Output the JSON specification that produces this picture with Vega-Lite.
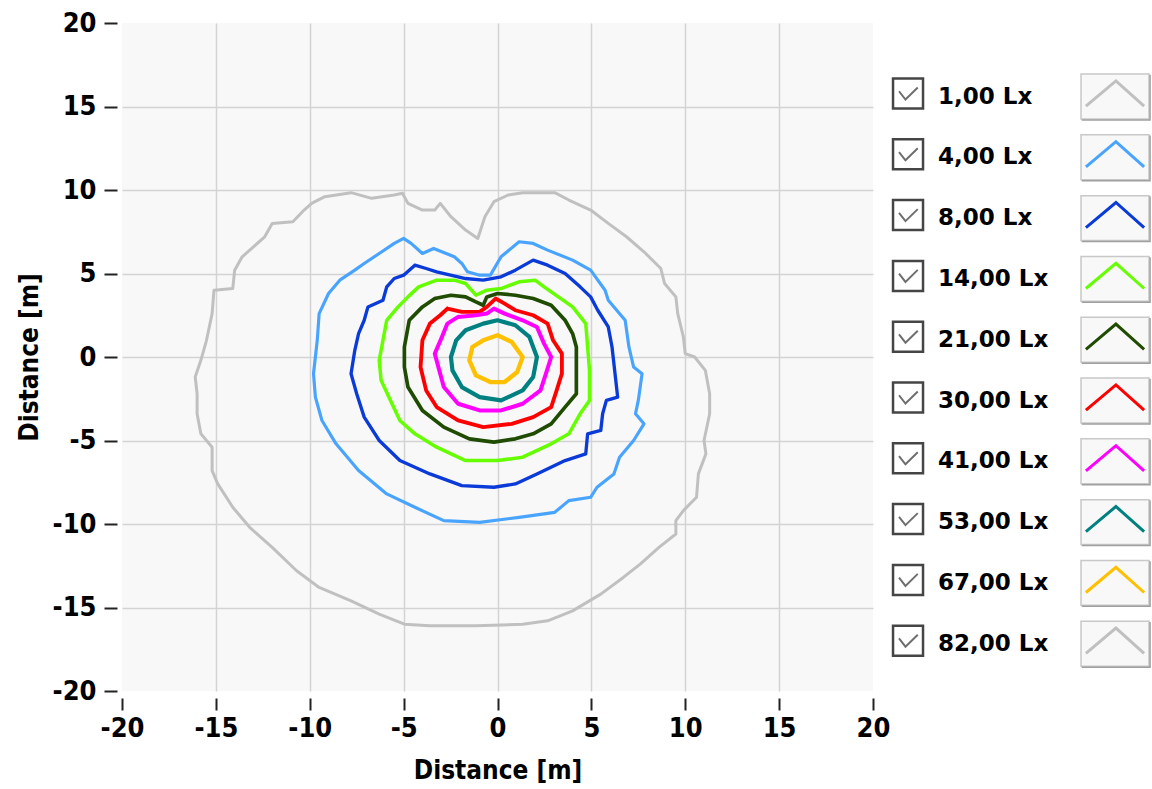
{
  "$schema": "https://vega.github.io/schema/vega-lite/v6.json",
  "background": "#ffffff",
  "padding": {"left": 16, "top": 9, "right": 0, "bottom": 0},
  "bounds": "flush",
  "spacing": 7,
  "config": {
    "font": "DejaVu Sans",
    "axis": {
      "labelFont": "DejaVu Sans Condensed",
      "labelFontWeight": "bold",
      "labelFontSize": 27,
      "labelColor": "#000000",
      "labelFlush": false,
      "titleFont": "DejaVu Sans Condensed",
      "titleFontWeight": "bold",
      "titleFontSize": 26,
      "titleColor": "#000000",
      "tickColor": "#222222",
      "tickWidth": 2,
      "domain": false,
      "gridColor": "#d3d3d3",
      "gridWidth": 1.5
    },
    "view": {"stroke": null}
  },
  "datasets": {
    "levels": [
      {"lvl": "1,00 Lx", "k": 0},
      {"lvl": "4,00 Lx", "k": 1},
      {"lvl": "8,00 Lx", "k": 2},
      {"lvl": "14,00 Lx", "k": 3},
      {"lvl": "21,00 Lx", "k": 4},
      {"lvl": "30,00 Lx", "k": 5},
      {"lvl": "41,00 Lx", "k": 6},
      {"lvl": "53,00 Lx", "k": 7},
      {"lvl": "67,00 Lx", "k": 8},
      {"lvl": "82,00 Lx", "k": 9}
    ],
    "curves": [
      {"lvl":"1,00 Lx","i":0,"x":-1.05,"y":7.1},{"lvl":"1,00 Lx","i":1,"x":-0.67,"y":8.4},{"lvl":"1,00 Lx","i":2,"x":-0.19,"y":9.3},{"lvl":"1,00 Lx","i":3,"x":0.57,"y":9.7},{"lvl":"1,00 Lx","i":4,"x":1.34,"y":9.84},{"lvl":"1,00 Lx","i":5,"x":3.05,"y":9.84},{"lvl":"1,00 Lx","i":6,"x":3.8,"y":9.4},{"lvl":"1,00 Lx","i":7,"x":4.96,"y":8.8},{"lvl":"1,00 Lx","i":8,"x":5.9,"y":8.0},{"lvl":"1,00 Lx","i":9,"x":6.87,"y":7.2},
      {"lvl":"1,00 Lx","i":10,"x":7.8,"y":6.3},{"lvl":"1,00 Lx","i":11,"x":8.7,"y":5.3},{"lvl":"1,00 Lx","i":12,"x":8.9,"y":4.4},{"lvl":"1,00 Lx","i":13,"x":9.5,"y":3.6},{"lvl":"1,00 Lx","i":14,"x":9.6,"y":2.6},{"lvl":"1,00 Lx","i":15,"x":9.9,"y":1.2},{"lvl":"1,00 Lx","i":16,"x":10.0,"y":0.2},{"lvl":"1,00 Lx","i":17,"x":10.5,"y":0.0},{"lvl":"1,00 Lx","i":18,"x":11.07,"y":-0.8},{"lvl":"1,00 Lx","i":19,"x":11.3,"y":-2.2},
      {"lvl":"1,00 Lx","i":20,"x":11.3,"y":-3.4},{"lvl":"1,00 Lx","i":21,"x":11.0,"y":-5.0},{"lvl":"1,00 Lx","i":22,"x":11.1,"y":-5.8},{"lvl":"1,00 Lx","i":23,"x":10.7,"y":-7.0},{"lvl":"1,00 Lx","i":24,"x":10.6,"y":-8.4},{"lvl":"1,00 Lx","i":25,"x":9.9,"y":-9.2},{"lvl":"1,00 Lx","i":26,"x":9.5,"y":-9.8},{"lvl":"1,00 Lx","i":27,"x":9.5,"y":-10.6},{"lvl":"1,00 Lx","i":28,"x":8.6,"y":-11.4},{"lvl":"1,00 Lx","i":29,"x":7.6,"y":-12.4},
      {"lvl":"1,00 Lx","i":30,"x":6.7,"y":-13.2},{"lvl":"1,00 Lx","i":31,"x":5.5,"y":-14.2},{"lvl":"1,00 Lx","i":32,"x":4.0,"y":-15.2},{"lvl":"1,00 Lx","i":33,"x":2.67,"y":-15.8},{"lvl":"1,00 Lx","i":34,"x":1.34,"y":-16.0},{"lvl":"1,00 Lx","i":35,"x":-1.15,"y":-16.1},{"lvl":"1,00 Lx","i":36,"x":-3.6,"y":-16.1},{"lvl":"1,00 Lx","i":37,"x":-4.96,"y":-16.0},{"lvl":"1,00 Lx","i":38,"x":-6.3,"y":-15.4},{"lvl":"1,00 Lx","i":39,"x":-7.8,"y":-14.6},
      {"lvl":"1,00 Lx","i":40,"x":-9.5,"y":-13.8},{"lvl":"1,00 Lx","i":41,"x":-10.7,"y":-12.8},{"lvl":"1,00 Lx","i":42,"x":-12.0,"y":-11.4},{"lvl":"1,00 Lx","i":43,"x":-13.2,"y":-10.2},{"lvl":"1,00 Lx","i":44,"x":-14.1,"y":-9.0},{"lvl":"1,00 Lx","i":45,"x":-14.9,"y":-7.6},{"lvl":"1,00 Lx","i":46,"x":-15.2,"y":-6.8},{"lvl":"1,00 Lx","i":47,"x":-15.2,"y":-5.4},{"lvl":"1,00 Lx","i":48,"x":-15.8,"y":-4.6},{"lvl":"1,00 Lx","i":49,"x":-16.0,"y":-3.4},
      {"lvl":"1,00 Lx","i":50,"x":-16.0,"y":-2.2},{"lvl":"1,00 Lx","i":51,"x":-16.1,"y":-1.2},{"lvl":"1,00 Lx","i":52,"x":-15.8,"y":-0.2},{"lvl":"1,00 Lx","i":53,"x":-15.5,"y":1.0},{"lvl":"1,00 Lx","i":54,"x":-15.2,"y":2.6},{"lvl":"1,00 Lx","i":55,"x":-15.1,"y":4.0},{"lvl":"1,00 Lx","i":56,"x":-14.1,"y":4.1},{"lvl":"1,00 Lx","i":57,"x":-14.0,"y":5.2},{"lvl":"1,00 Lx","i":58,"x":-13.6,"y":6.0},{"lvl":"1,00 Lx","i":59,"x":-13.0,"y":6.6},
      {"lvl":"1,00 Lx","i":60,"x":-12.4,"y":7.2},{"lvl":"1,00 Lx","i":61,"x":-12.0,"y":8.0},{"lvl":"1,00 Lx","i":62,"x":-10.9,"y":8.1},{"lvl":"1,00 Lx","i":63,"x":-10.3,"y":8.8},{"lvl":"1,00 Lx","i":64,"x":-9.9,"y":9.2},{"lvl":"1,00 Lx","i":65,"x":-9.2,"y":9.6},{"lvl":"1,00 Lx","i":66,"x":-7.8,"y":9.84},{"lvl":"1,00 Lx","i":67,"x":-6.7,"y":9.5},{"lvl":"1,00 Lx","i":68,"x":-5.5,"y":9.7},{"lvl":"1,00 Lx","i":69,"x":-5.06,"y":9.8},
      {"lvl":"1,00 Lx","i":70,"x":-4.77,"y":9.2},{"lvl":"1,00 Lx","i":71,"x":-4.0,"y":8.8},{"lvl":"1,00 Lx","i":72,"x":-3.34,"y":8.8},{"lvl":"1,00 Lx","i":73,"x":-3.05,"y":9.2},{"lvl":"1,00 Lx","i":74,"x":-2.48,"y":8.4},{"lvl":"1,00 Lx","i":75,"x":-1.7,"y":7.6},{"lvl":"1,00 Lx","i":76,"x":-1.05,"y":7.1},

      {"lvl":"4,00 Lx","i":0,"x":-0.95,"y":4.9},{"lvl":"4,00 Lx","i":1,"x":-0.38,"y":4.9},{"lvl":"4,00 Lx","i":2,"x":0.19,"y":6.0},{"lvl":"4,00 Lx","i":3,"x":1.15,"y":6.9},{"lvl":"4,00 Lx","i":4,"x":1.9,"y":6.8},{"lvl":"4,00 Lx","i":5,"x":2.67,"y":6.4},{"lvl":"4,00 Lx","i":6,"x":4.0,"y":5.8},{"lvl":"4,00 Lx","i":7,"x":4.96,"y":5.2},{"lvl":"4,00 Lx","i":8,"x":5.73,"y":4.0},{"lvl":"4,00 Lx","i":9,"x":5.9,"y":3.4},
      {"lvl":"4,00 Lx","i":10,"x":6.8,"y":2.2},{"lvl":"4,00 Lx","i":11,"x":7.0,"y":0.6},{"lvl":"4,00 Lx","i":12,"x":7.25,"y":-0.6},{"lvl":"4,00 Lx","i":13,"x":7.7,"y":-1.0},{"lvl":"4,00 Lx","i":14,"x":7.5,"y":-2.6},{"lvl":"4,00 Lx","i":15,"x":7.35,"y":-3.4},{"lvl":"4,00 Lx","i":16,"x":7.8,"y":-4.0},{"lvl":"4,00 Lx","i":17,"x":7.25,"y":-5.0},{"lvl":"4,00 Lx","i":18,"x":6.5,"y":-6.0},{"lvl":"4,00 Lx","i":19,"x":6.2,"y":-7.0},
      {"lvl":"4,00 Lx","i":20,"x":5.3,"y":-7.8},{"lvl":"4,00 Lx","i":21,"x":4.96,"y":-8.4},{"lvl":"4,00 Lx","i":22,"x":3.8,"y":-8.6},{"lvl":"4,00 Lx","i":23,"x":3.05,"y":-9.3},{"lvl":"4,00 Lx","i":24,"x":1.15,"y":-9.6},{"lvl":"4,00 Lx","i":25,"x":-0.95,"y":-9.9},{"lvl":"4,00 Lx","i":26,"x":-2.86,"y":-9.8},{"lvl":"4,00 Lx","i":27,"x":-4.4,"y":-9.0},{"lvl":"4,00 Lx","i":28,"x":-5.9,"y":-8.2},{"lvl":"4,00 Lx","i":29,"x":-7.4,"y":-6.8},
      {"lvl":"4,00 Lx","i":30,"x":-8.6,"y":-5.2},{"lvl":"4,00 Lx","i":31,"x":-9.35,"y":-3.8},{"lvl":"4,00 Lx","i":32,"x":-9.7,"y":-2.4},{"lvl":"4,00 Lx","i":33,"x":-9.8,"y":-1.0},{"lvl":"4,00 Lx","i":34,"x":-9.6,"y":1.0},{"lvl":"4,00 Lx","i":35,"x":-9.5,"y":2.6},{"lvl":"4,00 Lx","i":36,"x":-9.0,"y":3.8},{"lvl":"4,00 Lx","i":37,"x":-8.4,"y":4.6},{"lvl":"4,00 Lx","i":38,"x":-7.6,"y":5.2},{"lvl":"4,00 Lx","i":39,"x":-7.1,"y":5.6},
      {"lvl":"4,00 Lx","i":40,"x":-6.3,"y":6.2},{"lvl":"4,00 Lx","i":41,"x":-5.5,"y":6.8},{"lvl":"4,00 Lx","i":42,"x":-5.0,"y":7.1},{"lvl":"4,00 Lx","i":43,"x":-4.6,"y":6.8},{"lvl":"4,00 Lx","i":44,"x":-4.0,"y":6.2},{"lvl":"4,00 Lx","i":45,"x":-3.4,"y":6.5},{"lvl":"4,00 Lx","i":46,"x":-2.3,"y":6.0},{"lvl":"4,00 Lx","i":47,"x":-1.9,"y":5.6},{"lvl":"4,00 Lx","i":48,"x":-1.6,"y":5.1},{"lvl":"4,00 Lx","i":49,"x":-0.95,"y":4.9},

      {"lvl":"8,00 Lx","i":0,"x":-4.4,"y":5.5},{"lvl":"8,00 Lx","i":1,"x":-3.8,"y":5.3},{"lvl":"8,00 Lx","i":2,"x":-3.24,"y":5.1},{"lvl":"8,00 Lx","i":3,"x":-2.5,"y":4.9},{"lvl":"8,00 Lx","i":4,"x":-1.7,"y":4.7},{"lvl":"8,00 Lx","i":5,"x":-0.76,"y":4.6},{"lvl":"8,00 Lx","i":6,"x":0.19,"y":4.8},{"lvl":"8,00 Lx","i":7,"x":0.95,"y":5.2},{"lvl":"8,00 Lx","i":8,"x":1.9,"y":5.8},{"lvl":"8,00 Lx","i":9,"x":2.67,"y":5.5},
      {"lvl":"8,00 Lx","i":10,"x":3.6,"y":5.0},{"lvl":"8,00 Lx","i":11,"x":4.4,"y":4.2},{"lvl":"8,00 Lx","i":12,"x":4.96,"y":3.6},{"lvl":"8,00 Lx","i":13,"x":5.34,"y":2.8},{"lvl":"8,00 Lx","i":14,"x":5.9,"y":1.8},{"lvl":"8,00 Lx","i":15,"x":6.1,"y":0.6},{"lvl":"8,00 Lx","i":16,"x":6.3,"y":-1.4},{"lvl":"8,00 Lx","i":17,"x":6.4,"y":-2.4},{"lvl":"8,00 Lx","i":18,"x":5.8,"y":-2.6},{"lvl":"8,00 Lx","i":19,"x":5.6,"y":-3.4},
      {"lvl":"8,00 Lx","i":20,"x":5.5,"y":-4.4},{"lvl":"8,00 Lx","i":21,"x":4.8,"y":-4.6},{"lvl":"8,00 Lx","i":22,"x":4.7,"y":-5.8},{"lvl":"8,00 Lx","i":23,"x":3.6,"y":-6.2},{"lvl":"8,00 Lx","i":24,"x":2.1,"y":-7.0},{"lvl":"8,00 Lx","i":25,"x":0.95,"y":-7.6},{"lvl":"8,00 Lx","i":26,"x":-0.19,"y":-7.8},{"lvl":"8,00 Lx","i":27,"x":-1.9,"y":-7.7},{"lvl":"8,00 Lx","i":28,"x":-3.6,"y":-7.0},{"lvl":"8,00 Lx","i":29,"x":-5.2,"y":-6.2},
      {"lvl":"8,00 Lx","i":30,"x":-6.3,"y":-5.0},{"lvl":"8,00 Lx","i":31,"x":-7.1,"y":-3.6},{"lvl":"8,00 Lx","i":32,"x":-7.5,"y":-2.2},{"lvl":"8,00 Lx","i":33,"x":-7.8,"y":-1.0},{"lvl":"8,00 Lx","i":34,"x":-7.6,"y":0.4},{"lvl":"8,00 Lx","i":35,"x":-7.4,"y":1.4},{"lvl":"8,00 Lx","i":36,"x":-7.1,"y":2.2},{"lvl":"8,00 Lx","i":37,"x":-6.9,"y":3.0},{"lvl":"8,00 Lx","i":38,"x":-6.1,"y":3.4},{"lvl":"8,00 Lx","i":39,"x":-5.9,"y":4.2},
      {"lvl":"8,00 Lx","i":40,"x":-5.5,"y":4.7},{"lvl":"8,00 Lx","i":41,"x":-5.0,"y":4.9},{"lvl":"8,00 Lx","i":42,"x":-4.4,"y":5.5},

      {"lvl":"14,00 Lx","i":0,"x":-3.24,"y":4.6},{"lvl":"14,00 Lx","i":1,"x":-2.3,"y":4.6},{"lvl":"14,00 Lx","i":2,"x":-1.7,"y":4.4},{"lvl":"14,00 Lx","i":3,"x":-1.15,"y":3.7},{"lvl":"14,00 Lx","i":4,"x":-0.57,"y":4.0},{"lvl":"14,00 Lx","i":5,"x":0.19,"y":4.1},{"lvl":"14,00 Lx","i":6,"x":1.15,"y":4.5},{"lvl":"14,00 Lx","i":7,"x":2.0,"y":4.6},{"lvl":"14,00 Lx","i":8,"x":2.48,"y":4.2},{"lvl":"14,00 Lx","i":9,"x":3.24,"y":3.6},
      {"lvl":"14,00 Lx","i":10,"x":4.0,"y":3.0},{"lvl":"14,00 Lx","i":11,"x":4.7,"y":2.0},{"lvl":"14,00 Lx","i":12,"x":4.8,"y":0.6},{"lvl":"14,00 Lx","i":13,"x":4.9,"y":-0.8},{"lvl":"14,00 Lx","i":14,"x":4.9,"y":-2.6},{"lvl":"14,00 Lx","i":15,"x":4.4,"y":-3.4},{"lvl":"14,00 Lx","i":16,"x":3.8,"y":-4.6},{"lvl":"14,00 Lx","i":17,"x":2.86,"y":-5.2},{"lvl":"14,00 Lx","i":18,"x":1.34,"y":-6.0},{"lvl":"14,00 Lx","i":19,"x":0.0,"y":-6.2},
      {"lvl":"14,00 Lx","i":20,"x":-1.7,"y":-6.2},{"lvl":"14,00 Lx","i":21,"x":-3.24,"y":-5.4},{"lvl":"14,00 Lx","i":22,"x":-4.4,"y":-4.6},{"lvl":"14,00 Lx","i":23,"x":-5.2,"y":-3.8},{"lvl":"14,00 Lx","i":24,"x":-5.7,"y":-2.6},{"lvl":"14,00 Lx","i":25,"x":-6.2,"y":-1.4},{"lvl":"14,00 Lx","i":26,"x":-6.3,"y":-0.2},{"lvl":"14,00 Lx","i":27,"x":-6.1,"y":1.0},{"lvl":"14,00 Lx","i":28,"x":-5.9,"y":2.2},{"lvl":"14,00 Lx","i":29,"x":-5.3,"y":3.0},
      {"lvl":"14,00 Lx","i":30,"x":-4.77,"y":3.6},{"lvl":"14,00 Lx","i":31,"x":-4.2,"y":4.2},{"lvl":"14,00 Lx","i":32,"x":-3.24,"y":4.6},

      {"lvl":"21,00 Lx","i":0,"x":-3.34,"y":3.5},{"lvl":"21,00 Lx","i":1,"x":-2.48,"y":3.7},{"lvl":"21,00 Lx","i":2,"x":-1.7,"y":3.6},{"lvl":"21,00 Lx","i":3,"x":-1.15,"y":3.3},{"lvl":"21,00 Lx","i":4,"x":-0.76,"y":3.1},{"lvl":"21,00 Lx","i":5,"x":-0.57,"y":3.6},{"lvl":"21,00 Lx","i":6,"x":0.0,"y":3.8},{"lvl":"21,00 Lx","i":7,"x":0.95,"y":3.7},{"lvl":"21,00 Lx","i":8,"x":1.9,"y":3.5},{"lvl":"21,00 Lx","i":9,"x":2.86,"y":3.1},
      {"lvl":"21,00 Lx","i":10,"x":3.6,"y":2.2},{"lvl":"21,00 Lx","i":11,"x":4.0,"y":1.4},{"lvl":"21,00 Lx","i":12,"x":4.2,"y":0.6},{"lvl":"21,00 Lx","i":13,"x":4.2,"y":-0.6},{"lvl":"21,00 Lx","i":14,"x":4.2,"y":-2.2},{"lvl":"21,00 Lx","i":15,"x":3.6,"y":-3.0},{"lvl":"21,00 Lx","i":16,"x":2.86,"y":-4.0},{"lvl":"21,00 Lx","i":17,"x":1.9,"y":-4.6},{"lvl":"21,00 Lx","i":18,"x":0.95,"y":-4.9},{"lvl":"21,00 Lx","i":19,"x":-0.19,"y":-5.1},
      {"lvl":"21,00 Lx","i":20,"x":-1.5,"y":-4.9},{"lvl":"21,00 Lx","i":21,"x":-2.86,"y":-4.2},{"lvl":"21,00 Lx","i":22,"x":-4.0,"y":-3.2},{"lvl":"21,00 Lx","i":23,"x":-4.77,"y":-1.8},{"lvl":"21,00 Lx","i":24,"x":-4.96,"y":-0.6},{"lvl":"21,00 Lx","i":25,"x":-4.96,"y":0.6},{"lvl":"21,00 Lx","i":26,"x":-4.7,"y":2.2},{"lvl":"21,00 Lx","i":27,"x":-4.0,"y":3.0},{"lvl":"21,00 Lx","i":28,"x":-3.34,"y":3.5},

      {"lvl":"30,00 Lx","i":0,"x":-2.67,"y":2.9},{"lvl":"30,00 Lx","i":1,"x":-1.9,"y":2.7},{"lvl":"30,00 Lx","i":2,"x":-0.95,"y":2.7},{"lvl":"30,00 Lx","i":3,"x":-0.57,"y":3.0},{"lvl":"30,00 Lx","i":4,"x":-0.1,"y":3.5},{"lvl":"30,00 Lx","i":5,"x":0.38,"y":3.2},{"lvl":"30,00 Lx","i":6,"x":0.95,"y":2.8},{"lvl":"30,00 Lx","i":7,"x":1.9,"y":2.5},{"lvl":"30,00 Lx","i":8,"x":2.67,"y":2.0},{"lvl":"30,00 Lx","i":9,"x":2.96,"y":1.0},
      {"lvl":"30,00 Lx","i":10,"x":3.43,"y":0.2},{"lvl":"30,00 Lx","i":11,"x":3.43,"y":-1.0},{"lvl":"30,00 Lx","i":12,"x":3.15,"y":-2.0},{"lvl":"30,00 Lx","i":13,"x":2.86,"y":-3.0},{"lvl":"30,00 Lx","i":14,"x":1.9,"y":-3.6},{"lvl":"30,00 Lx","i":15,"x":0.76,"y":-4.0},{"lvl":"30,00 Lx","i":16,"x":-0.76,"y":-4.2},{"lvl":"30,00 Lx","i":17,"x":-2.1,"y":-3.8},{"lvl":"30,00 Lx","i":18,"x":-3.24,"y":-3.0},{"lvl":"30,00 Lx","i":19,"x":-3.8,"y":-2.0},
      {"lvl":"30,00 Lx","i":20,"x":-4.1,"y":-0.6},{"lvl":"30,00 Lx","i":21,"x":-4.0,"y":1.0},{"lvl":"30,00 Lx","i":22,"x":-3.6,"y":2.0},{"lvl":"30,00 Lx","i":23,"x":-3.05,"y":2.5},{"lvl":"30,00 Lx","i":24,"x":-2.67,"y":2.9},

      {"lvl":"41,00 Lx","i":0,"x":-2.1,"y":2.4},{"lvl":"41,00 Lx","i":1,"x":-1.15,"y":2.5},{"lvl":"41,00 Lx","i":2,"x":-0.57,"y":2.6},{"lvl":"41,00 Lx","i":3,"x":-0.19,"y":2.9},{"lvl":"41,00 Lx","i":4,"x":0.38,"y":2.6},{"lvl":"41,00 Lx","i":5,"x":1.34,"y":2.2},{"lvl":"41,00 Lx","i":6,"x":2.1,"y":1.8},{"lvl":"41,00 Lx","i":7,"x":2.48,"y":0.8},{"lvl":"41,00 Lx","i":8,"x":2.86,"y":0.0},{"lvl":"41,00 Lx","i":9,"x":2.58,"y":-1.0},
      {"lvl":"41,00 Lx","i":10,"x":2.29,"y":-2.0},{"lvl":"41,00 Lx","i":11,"x":1.34,"y":-2.8},{"lvl":"41,00 Lx","i":12,"x":0.19,"y":-3.2},{"lvl":"41,00 Lx","i":13,"x":-0.95,"y":-3.2},{"lvl":"41,00 Lx","i":14,"x":-2.1,"y":-2.8},{"lvl":"41,00 Lx","i":15,"x":-2.86,"y":-1.8},{"lvl":"41,00 Lx","i":16,"x":-3.15,"y":-0.6},{"lvl":"41,00 Lx","i":17,"x":-3.34,"y":0.2},{"lvl":"41,00 Lx","i":18,"x":-2.96,"y":1.2},{"lvl":"41,00 Lx","i":19,"x":-2.67,"y":2.0},
      {"lvl":"41,00 Lx","i":20,"x":-2.1,"y":2.4},

      {"lvl":"53,00 Lx","i":0,"x":-1.7,"y":1.6},{"lvl":"53,00 Lx","i":1,"x":-0.76,"y":2.0},{"lvl":"53,00 Lx","i":2,"x":0.0,"y":2.2},{"lvl":"53,00 Lx","i":3,"x":0.95,"y":1.9},{"lvl":"53,00 Lx","i":4,"x":1.7,"y":1.2},{"lvl":"53,00 Lx","i":5,"x":2.1,"y":0.0},{"lvl":"53,00 Lx","i":6,"x":1.9,"y":-1.2},{"lvl":"53,00 Lx","i":7,"x":1.34,"y":-2.0},{"lvl":"53,00 Lx","i":8,"x":0.19,"y":-2.6},{"lvl":"53,00 Lx","i":9,"x":-0.95,"y":-2.4},
      {"lvl":"53,00 Lx","i":10,"x":-1.9,"y":-1.8},{"lvl":"53,00 Lx","i":11,"x":-2.4,"y":-0.8},{"lvl":"53,00 Lx","i":12,"x":-2.48,"y":0.0},{"lvl":"53,00 Lx","i":13,"x":-2.2,"y":1.0},{"lvl":"53,00 Lx","i":14,"x":-1.7,"y":1.6},

      {"lvl":"67,00 Lx","i":0,"x":-0.76,"y":1.0},{"lvl":"67,00 Lx","i":1,"x":0.0,"y":1.3},{"lvl":"67,00 Lx","i":2,"x":0.76,"y":0.9},{"lvl":"67,00 Lx","i":3,"x":1.34,"y":0.0},{"lvl":"67,00 Lx","i":4,"x":1.05,"y":-0.9},{"lvl":"67,00 Lx","i":5,"x":0.38,"y":-1.5},{"lvl":"67,00 Lx","i":6,"x":-0.38,"y":-1.5},{"lvl":"67,00 Lx","i":7,"x":-1.15,"y":-1.1},{"lvl":"67,00 Lx","i":8,"x":-1.5,"y":-0.2},{"lvl":"67,00 Lx","i":9,"x":-1.34,"y":0.6},
      {"lvl":"67,00 Lx","i":10,"x":-0.76,"y":1.0}
    ]
  },
  "hconcat": [
    {
      "width": 751,
      "height": 668,
      "view": {"fill": "#f8f8f8", "stroke": null},
      "data": {"name": "curves"},
      "mark": {"type": "line", "strokeJoin": "round", "strokeCap": "round"},
      "encoding": {
        "x": {
          "field": "x", "type": "quantitative",
          "scale": {"domain": [-20, 20], "nice": false, "zero": false},
          "axis": {
            "title": "Distance [m]",
            "values": [-20, -15, -10, -5, 0, 5, 10, 15, 20],
            "offset": 7, "tickSize": 12, "labelPadding": 5, "titlePadding": 16,
            "labelExpr": "replace(datum.label, '−', '-')",
            "gridColor": {"condition": {"test": "abs(datum.value) == 20", "value": "transparent"}, "value": "#d3d3d3"}
          }
        },
        "y": {
          "field": "y", "type": "quantitative",
          "scale": {"domain": [-20, 20], "nice": false, "zero": false},
          "axis": {
            "title": "Distance [m]",
            "values": [-20, -15, -10, -5, 0, 5, 10, 15, 20],
            "offset": 5, "tickSize": 13, "labelPadding": 8, "titlePadding": 10,
            "labelExpr": "replace(datum.label, '−', '-')",
            "gridColor": {"condition": {"test": "abs(datum.value) == 20", "value": "transparent"}, "value": "#d3d3d3"}
          }
        },
        "order": {"field": "i", "type": "quantitative"},
        "color": {
          "field": "lvl", "type": "nominal",
          "scale": {
            "domain": ["1,00 Lx", "4,00 Lx", "8,00 Lx", "14,00 Lx", "21,00 Lx", "30,00 Lx", "41,00 Lx", "53,00 Lx", "67,00 Lx", "82,00 Lx"],
            "range": ["#c0c0c0", "#48a4ff", "#0a3ad8", "#66ff00", "#1f4c00", "#ff0000", "#ff00ff", "#008080", "#ffc000", "#c0c0c0"]
          },
          "legend": null
        },
        "strokeWidth": {
          "field": "lvl", "type": "nominal",
          "scale": {
            "domain": ["1,00 Lx", "4,00 Lx", "8,00 Lx", "14,00 Lx", "21,00 Lx", "30,00 Lx", "41,00 Lx", "53,00 Lx", "67,00 Lx", "82,00 Lx"],
            "range": [3, 4.5, 3.5, 3, 3.5, 3, 3, 3.5, 3.5, 3]
          },
          "legend": null
        }
      }
    },
    {
      "width": 270,
      "height": 668,
      "view": {"stroke": null},
      "data": {"name": "levels"},
      "encoding": {
        "y": {"field": "k", "type": "quantitative", "scale": {"domain": [-1.209, 9.778], "reverse": true, "nice": false, "zero": false}, "axis": null}
      },
      "layer": [
        {
          "mark": {"type": "point", "shape": "M-1,-1.2L1,-1.2L1,0.8L-1,0.8Z", "size": 900, "filled": true, "fill": "#ffffff", "stroke": "#454545", "strokeWidth": 2.5, "opacity": 1},
          "encoding": {"x": {"datum": -2.95, "type": "quantitative", "scale": {"domain": [-3.417, 1.083], "nice": false, "zero": false}, "axis": null}}
        },
        {
          "mark": {"type": "point", "shape": "M-0.6,-0.35L-0.17,0.2L0.65,-0.6", "size": 900, "filled": false, "stroke": "#6e6e6e", "strokeWidth": 2, "opacity": 1},
          "encoding": {"x": {"datum": -2.95, "type": "quantitative", "scale": {"domain": [-3.417, 1.083], "nice": false, "zero": false}, "axis": null}}
        },
        {
          "mark": {"type": "text", "align": "left", "baseline": "middle", "font": "DejaVu Sans", "fontWeight": "bold", "fontSize": 23, "color": "#000000"},
          "encoding": {
            "x": {"datum": -2.45, "type": "quantitative", "scale": {"domain": [-3.417, 1.083], "nice": false, "zero": false}, "axis": null},
            "text": {"field": "lvl", "type": "nominal"}
          }
        },
        {
          "mark": {"type": "point", "shape": "M-1,-0.66L1,-0.66L1,0.66L-1,0.66Z", "size": 4624, "filled": true, "fill": "#f8f8f8", "stroke": "#c8c8c8", "strokeWidth": 1.5, "opacity": 1},
          "encoding": {"x": {"datum": 0.5, "type": "quantitative", "scale": {"domain": [-3.417, 1.083], "nice": false, "zero": false}, "axis": null}}
        },
        {
          "mark": {"type": "point", "shape": "M1.03,-0.64L1.03,0.69L-0.98,0.69", "size": 4624, "filled": false, "stroke": "#a0a0a0", "strokeWidth": 1.5, "opacity": 1},
          "encoding": {"x": {"datum": 0.5, "type": "quantitative", "scale": {"domain": [-3.417, 1.083], "nice": false, "zero": false}, "axis": null}}
        },
        {
          "mark": {"type": "point", "shape": "M-0.97,0.32L0.03,-0.52L0.97,0.32", "size": 3600, "filled": false, "strokeWidth": 3, "opacity": 1},
          "encoding": {
            "x": {"datum": 0.5, "type": "quantitative", "scale": {"domain": [-3.417, 1.083], "nice": false, "zero": false}, "axis": null},
            "color": {
              "field": "lvl", "type": "nominal",
              "scale": {
                "domain": ["1,00 Lx", "4,00 Lx", "8,00 Lx", "14,00 Lx", "21,00 Lx", "30,00 Lx", "41,00 Lx", "53,00 Lx", "67,00 Lx", "82,00 Lx"],
                "range": ["#c0c0c0", "#48a4ff", "#0a3ad8", "#66ff00", "#1f4c00", "#ff0000", "#ff00ff", "#008080", "#ffc000", "#c0c0c0"]
              },
              "legend": null
            }
          }
        }
      ]
    }
  ]
}
